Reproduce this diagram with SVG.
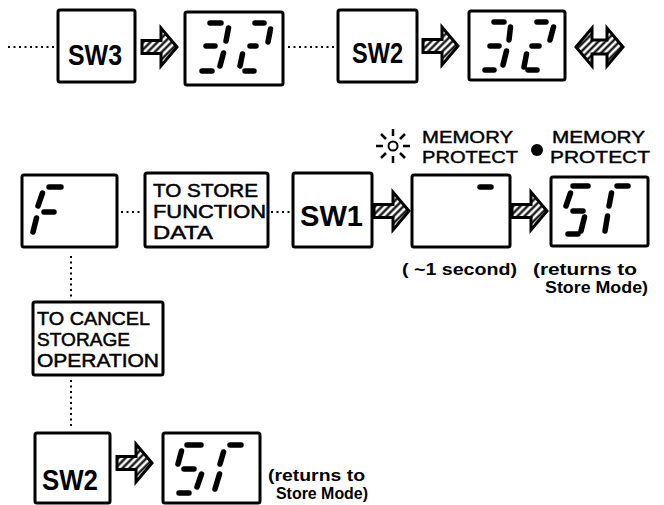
<svg xmlns="http://www.w3.org/2000/svg" width="664" height="505" viewBox="0 0 664 505">
<style>
.box{fill:#fff;stroke:#000;stroke-width:3;stroke-linejoin:round}
.seg{stroke:#000;stroke-width:5.5;stroke-linecap:round;fill:none}
.dot{stroke:#000;stroke-width:2;stroke-dasharray:2 3.5;fill:none}
.sw{font-family:"Liberation Sans",Arial,sans-serif;font-weight:bold;font-size:30px;fill:#000}
.lbl{font-family:"Liberation Sans",Arial,sans-serif;font-size:19px;fill:#000;stroke:#000;stroke-width:0.5}
.mp{font-family:"Liberation Sans",Arial,sans-serif;font-size:16px;fill:#000;stroke:#000;stroke-width:0.4}
.note{font-family:"Liberation Sans",Arial,sans-serif;font-weight:bold;font-size:16px;fill:#000}
.arr{fill:url(#hatch);stroke:#000;stroke-width:3;stroke-linejoin:miter}
</style>
<defs>
<pattern id="hatch" patternUnits="userSpaceOnUse" width="5" height="5" patternTransform="rotate(45)">
<rect width="5" height="5" fill="#fff"/>
<line x1="2.5" y1="0" x2="2.5" y2="5" stroke="#000" stroke-width="2.2"/>
</pattern>
<path id="arrow" class="arr" d="M0,-6.5 L19,-6.5 L19,-19 L35,0 L19,19 L19,6.5 L0,6.5 Z"/>
</defs>

<g id="connectors">
<line class="dot" x1="8" y1="47" x2="55" y2="47"/>
<line class="dot" x1="288" y1="47" x2="335" y2="47"/>
<line class="dot" x1="121" y1="212" x2="143" y2="212"/>
<line class="dot" x1="271" y1="212" x2="291" y2="212"/>
<line class="dot" x1="71" y1="256" x2="71" y2="299"/>
<line class="dot" x1="71" y1="380" x2="71" y2="428"/>
<use href="#arrow" x="142" y="47"/>
<use href="#arrow" x="423" y="46"/>
<use href="#arrow" x="374" y="211"/>
<use href="#arrow" x="512" y="211"/>
<use href="#arrow" x="117" y="463"/>
<path class="arr" d="M576,47 L592,28 L592,40 L607,40 L607,28 L623,47 L607,66 L607,54 L592,54 L592,66 Z"/>
</g>

<g id="sw3">
<rect class="box" x="58" y="10" width="77" height="72" rx="2"/>
<text class="sw" x="68" y="65" textLength="54" lengthAdjust="spacingAndGlyphs">SW3</text>
</g>

<g id="display-32a">
<rect class="box" x="185" y="12" width="98" height="73" rx="2"/>
<path class="seg" d="M210,23 L221,23 M206,46 L215,46 M202,71 L212,71 M228.5,28 L226,41 M223.5,53 L220,66"/>
<path class="seg" d="M255,23 L264,23 M270.5,29 L268,42 M250,46 L256,46 M242.5,54 L240,66 M245,71 L254,71"/>
</g>

<g id="sw2-top">
<rect class="box" x="338" y="10" width="79" height="72" rx="2"/>
<text class="sw" x="352" y="63" textLength="51" lengthAdjust="spacingAndGlyphs">SW2</text>
</g>

<g id="display-32b">
<rect class="box" x="469" y="11" width="96" height="69" rx="2"/>
<path class="seg" d="M494,22 L504,22 M490,46 L499,46 M485,70 L494,70 M510.5,27 L509,40 M506.5,51 L503,65"/>
<path class="seg" d="M537,22 L546,22 M553.5,27 L550,40 M532,46 L539,46 M526.5,54 L524,67 M528,70 L537,70"/>
</g>

<g id="display-F">
<rect class="box" x="22" y="175" width="95" height="72" rx="2"/>
<path class="seg" d="M49,187 L61,187 M42.5,193 L38,206 M44,212 L54,212 M36.5,218 L33,232"/>
</g>

<g id="to-store">
<rect class="box" x="145" y="173" width="123" height="74" rx="2"/>
<text class="lbl" x="153" y="197" textLength="105" lengthAdjust="spacingAndGlyphs">TO STORE</text>
<text class="lbl" x="153" y="218" textLength="113" lengthAdjust="spacingAndGlyphs">FUNCTION</text>
<text class="lbl" x="153" y="239" textLength="60" lengthAdjust="spacingAndGlyphs">DATA</text>
</g>

<g id="sw1">
<rect class="box" x="293" y="173" width="79" height="74" rx="2"/>
<text class="sw" x="300" y="226" textLength="63" lengthAdjust="spacingAndGlyphs">SW1</text>
</g>

<g id="display-blank">
<rect class="box" x="412" y="175" width="98" height="72" rx="2"/>
<path class="seg" d="M480,187 L491,187"/>
<g id="led-on" stroke="#000" stroke-width="2.5" fill="none">
<circle cx="393" cy="146" r="4.5" fill="#fff" stroke-width="2"/>
<path d="M393,129 V136 M393,156 V163 M376,146 H383 M403,146 H410 M381,134 L386,139 M400,153 L405,158 M405,134 L400,139 M386,153 L381,158"/>
</g>
<text class="mp" x="422" y="143" textLength="91" lengthAdjust="spacingAndGlyphs">MEMORY</text>
<text class="mp" x="422" y="163" textLength="96" lengthAdjust="spacingAndGlyphs">PROTECT</text>
<text class="note" x="402" y="275" textLength="115" lengthAdjust="spacingAndGlyphs">( ~1 second)</text>
</g>

<g id="display-St">
<rect class="box" x="551" y="177" width="97" height="69" rx="2"/>
<path class="seg" d="M573,186 L588,186 M570.5,193 L566,206 M573,211 L583,211 M584.5,217 L581,231 M568,234 L578,234"/>
<path class="seg" d="M617,186 L628,186 M611.5,193 L609,206 M607.5,216 L605,231"/>
<circle id="led-off" cx="537" cy="150" r="6" fill="#000"/>
<text class="mp" x="552" y="143" textLength="93" lengthAdjust="spacingAndGlyphs">MEMORY</text>
<text class="mp" x="550" y="163" textLength="100" lengthAdjust="spacingAndGlyphs">PROTECT</text>
<text class="note" x="533" y="275" textLength="104" lengthAdjust="spacingAndGlyphs">(returns to</text>
<text class="note" x="545" y="293" textLength="103" lengthAdjust="spacingAndGlyphs">Store Mode)</text>
</g>

<g id="to-cancel">
<rect class="box" x="33" y="302" width="130" height="73" rx="2"/>
<text class="lbl" x="37" y="325" textLength="113" lengthAdjust="spacingAndGlyphs">TO CANCEL</text>
<text class="lbl" x="37" y="346" textLength="93" lengthAdjust="spacingAndGlyphs">STORAGE</text>
<text class="lbl" x="37" y="367" textLength="122" lengthAdjust="spacingAndGlyphs">OPERATION</text>
</g>

<g id="sw2-bottom">
<rect class="box" x="35" y="433" width="75" height="70" rx="2"/>
<text class="sw" x="42" y="490" textLength="56" lengthAdjust="spacingAndGlyphs">SW2</text>
</g>

<g id="display-St-bottom">
<rect class="box" x="163" y="433" width="97" height="70" rx="2"/>
<path class="seg" d="M187,445 L201,445 M181.5,451 L178,464 M184,469 L194,469 M201.5,474 L197,487 M179,493 L189,493"/>
<path class="seg" d="M230,445 L241,445 M223.5,452 L220,464 M219.5,474 L215,489"/>
<text class="note" x="268" y="481" textLength="97" lengthAdjust="spacingAndGlyphs">(returns to</text>
<text class="note" x="276" y="499" textLength="92" lengthAdjust="spacingAndGlyphs">Store Mode)</text>
</g>
</svg>
